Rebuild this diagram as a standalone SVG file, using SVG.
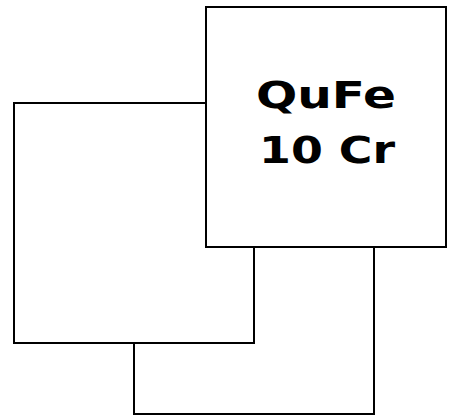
<svg xmlns="http://www.w3.org/2000/svg" width="453" height="419" viewBox="0 0 453 419">
<style>
.box{fill:#fff;stroke:#000;stroke-width:2}
.lbl{font-family:"DejaVu Sans",Verdana,sans-serif;font-weight:bold;font-size:37px;fill:#000;text-anchor:middle}
</style>
<rect width="453" height="419" fill="#fff"/>
<g id="node2"><rect class="box" x="134" y="174" width="240" height="240"/></g>
<g id="node1"><rect class="box" x="14" y="103" width="240" height="240"/></g>
<g id="node3"><rect class="box" x="206" y="7" width="240" height="240"/>
<text class="lbl" x="326" y="108" textLength="140" lengthAdjust="spacingAndGlyphs">QuFe</text>
<text class="lbl" x="327" y="163" textLength="136" lengthAdjust="spacingAndGlyphs">10 Cr</text></g>
<g id="connectors"/>
</svg>
